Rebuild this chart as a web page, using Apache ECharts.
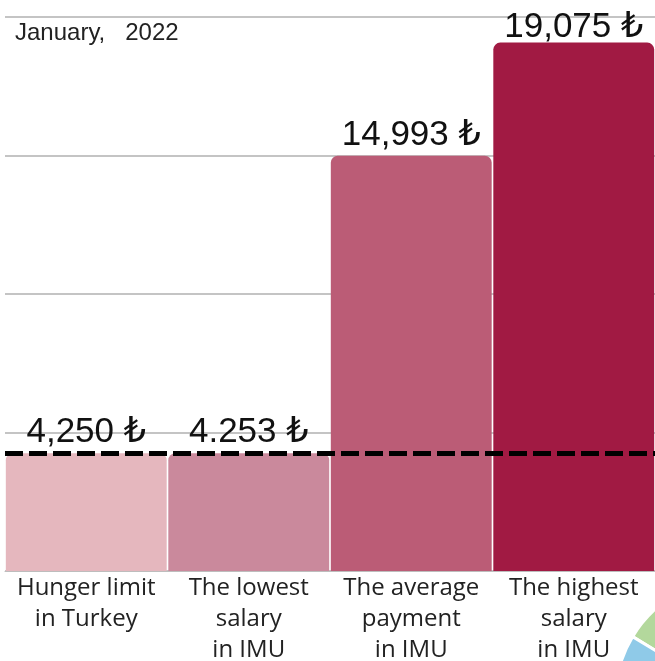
<!DOCTYPE html>
<html><head><meta charset="utf-8">
<script src="https://cdn.jsdelivr.net/npm/echarts@6/dist/echarts.min.js"></script>
<style>html,body{margin:0;padding:0;background:#fff}#c{width:655px;height:661px}</style>
</head><body><div id="c"></div>
<script>
const categories = ["Hunger limit\nin Turkey", "The lowest\nsalary\nin IMU", "The average\npayment\nin IMU", "The highest\nsalary\nin IMU"];
const values = [4250, 4253, 14993, 19075];
const valueLabels = ["4,250 ₺", "4.253 ₺", "14,993 ₺", "19,075 ₺"];
const barColors = ["#e5b7be", "#ca899c", "#bb5c76", "#a11a43"];
const hungerLine = 4250;
const titleText = "January,   2022";
// fragment of a neighbouring pie chart (bottom-right corner)
const pieNames = ["a", "b", "c", "d"];
const pieValues = [18, 100, 200, 42];
const pieColors = ["#b3d89c", "#8fcae8", "#8fcae8", "#8fcae8"];

const labelDist = [3, 3, 3, -2];
const chart = echarts.init(document.getElementById('c'), null, {renderer: 'canvas'});
chart.setOption({
  animation: false,
  title: {text: titleText, left: 10, top: 16, textStyle: {fontFamily: 'Liberation Sans', fontSize: 24, fontWeight: 'normal', color: '#222'}},
  grid: {left: 5, right: 0, top: 17, bottom: 90, containLabel: false, outerBoundsMode: 'none'},
  xAxis: {
    type: 'category', data: categories,
    axisLine: {show: true, lineStyle: {color: '#bdbdbd', width: 1}},
    axisTick: {show: false},
    axisLabel: {interval: 0, margin: 2, fontFamily: 'Open Sans', fontSize: 24, lineHeight: 31, color: '#222'}
  },
  yAxis: {
    type: 'value', min: 0, max: 20000, interval: 5000,
    axisLabel: {show: false}, axisLine: {show: false}, axisTick: {show: false},
    splitLine: {lineStyle: {color: '#c4c4c4', width: 2}}
  },
  series: [{
    type: 'bar', barCategoryGap: '1%',
    data: values.map((v, i) => ({value: v, itemStyle: {color: barColors[i], borderRadius: [7, 7, 0, 0]},
      label: {show: true, position: 'top', distance: labelDist[i], formatter: valueLabels[i],
        fontFamily: 'Liberation Sans, DejaVu Sans', fontSize: 35, color: '#111'}})),
    markLine: {
      silent: true, symbol: 'none', label: {show: false},
      lineStyle: {color: '#000', width: 5, type: [18, 6]},
      data: [{yAxis: hungerLine}]
    },
    z: 2
  }, {
    type: 'pie', center: [738, 700], radius: 123, startAngle: 131, clockwise: false,
    label: {show: false}, labelLine: {show: false}, silent: true,
    itemStyle: {borderColor: '#fff', borderWidth: 3},
    data: pieValues.map((v, i) => ({name: pieNames[i], value: v, itemStyle: {color: pieColors[i]}}))
  }]
});
</script></body></html>
